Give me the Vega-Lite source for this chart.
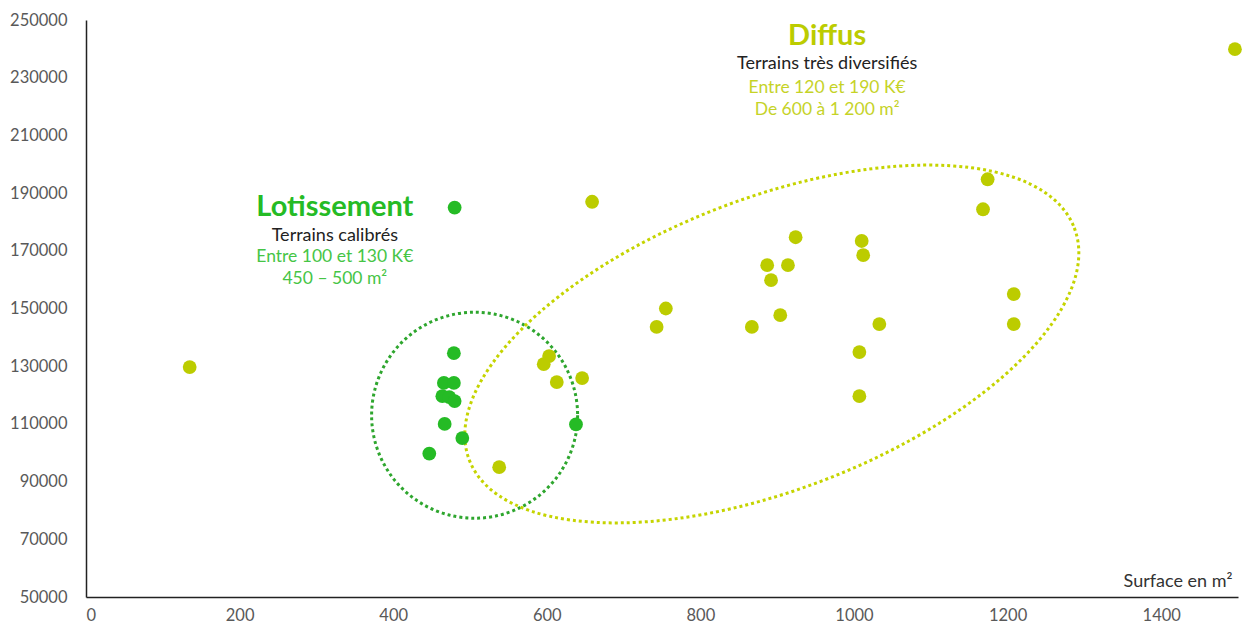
{
  "$schema": "https://vega.github.io/schema/vega-lite/v6.json",
  "width": 1152,
  "height": 577,
  "autosize": {"type": "none"},
  "padding": {"left": 86, "top": 20, "right": 5, "bottom": 35},
  "background": "white",
  "config": {
    "view": {"stroke": null},
    "font": "Lato",
    "axis": {"grid": false, "ticks": false, "labelFont": "Lato", "labelFontSize": 16.5, "labelColor": "#595959", "domainColor": "#222", "domainWidth": 1.5, "format": "d"}
  },
  "datasets": {
    "pts": [
      {"surface": 480, "prix": 185000, "type": "Lotissement"},
      {"surface": 479, "prix": 134500, "type": "Lotissement"},
      {"surface": 466, "prix": 124200, "type": "Lotissement"},
      {"surface": 479, "prix": 124200, "type": "Lotissement"},
      {"surface": 464, "prix": 119600, "type": "Lotissement"},
      {"surface": 473, "prix": 119300, "type": "Lotissement"},
      {"surface": 480, "prix": 117900, "type": "Lotissement"},
      {"surface": 467, "prix": 110000, "type": "Lotissement"},
      {"surface": 490, "prix": 105100, "type": "Lotissement"},
      {"surface": 447, "prix": 99700, "type": "Lotissement"},
      {"surface": 638, "prix": 109800, "type": "Lotissement"},
      {"surface": 135, "prix": 129700, "type": "Diffus"},
      {"surface": 659, "prix": 187000, "type": "Diffus"},
      {"surface": 603, "prix": 133500, "type": "Diffus"},
      {"surface": 596, "prix": 130700, "type": "Diffus"},
      {"surface": 613, "prix": 124500, "type": "Diffus"},
      {"surface": 646, "prix": 125900, "type": "Diffus"},
      {"surface": 538, "prix": 95000, "type": "Diffus"},
      {"surface": 924, "prix": 174700, "type": "Diffus"},
      {"surface": 887, "prix": 165000, "type": "Diffus"},
      {"surface": 914, "prix": 165000, "type": "Diffus"},
      {"surface": 892, "prix": 159800, "type": "Diffus"},
      {"surface": 755, "prix": 150000, "type": "Diffus"},
      {"surface": 743, "prix": 143600, "type": "Diffus"},
      {"surface": 867, "prix": 143600, "type": "Diffus"},
      {"surface": 904, "prix": 147700, "type": "Diffus"},
      {"surface": 1010, "prix": 173400, "type": "Diffus"},
      {"surface": 1012, "prix": 168500, "type": "Diffus"},
      {"surface": 1033, "prix": 144600, "type": "Diffus"},
      {"surface": 1007, "prix": 134900, "type": "Diffus"},
      {"surface": 1007, "prix": 119600, "type": "Diffus"},
      {"surface": 1174, "prix": 194800, "type": "Diffus"},
      {"surface": 1168, "prix": 184400, "type": "Diffus"},
      {"surface": 1208, "prix": 155000, "type": "Diffus"},
      {"surface": 1208, "prix": 144600, "type": "Diffus"},
      {"surface": 1496, "prix": 239900, "type": "Diffus"}
    ],
    "titles": [
      {"surface": 324, "prix": 185100, "type": "Lotissement", "text": "Lotissement"},
      {"surface": 965, "prix": 244400, "type": "Diffus", "text": "Diffus"}
    ],
    "blacklines": [
      {"surface": 324, "prix": 175100, "text": "Terrains calibrés"},
      {"surface": 965, "prix": 234700, "text": "Terrains très diversifiés"}
    ],
    "colorlines": [
      {"surface": 324, "prix": 167800, "type": "Lotissement", "text": "Entre 100 et 130 K€"},
      {"surface": 324, "prix": 160200, "type": "Lotissement", "text": "450 – 500 m²"},
      {"surface": 965, "prix": 226400, "type": "Diffus", "text": "Entre 120 et 190 K€"},
      {"surface": 965, "prix": 218700, "type": "Diffus", "text": "De 600 à 1 200 m²"}
    ],
    "circ": [{"surface": 506, "prix": 113000}],
    "ell": [{"surface": 893, "prix": 137700}]
  },
  "layer": [
    {
      "data": {"name": "circ"},
      "mark": {"type": "point", "shape": "circle", "size": 42436, "filled": false, "stroke": "#2ea62e", "strokeWidth": 3, "strokeDash": [3, 3], "opacity": 1},
      "encoding": {
        "x": {"field": "surface", "type": "quantitative", "scale": {"domain": [0, 1500], "nice": false, "zero": false},
              "axis": {"values": [0, 200, 400, 600, 800, 1000, 1200, 1400], "labelPadding": 10, "title": "Surface en m²", "titleFont": "Lato", "titleFontSize": 18, "titleFontWeight": "normal", "titleColor": "#333", "titleX": 1146, "titleY": -7, "titleAlign": "right", "titleBaseline": "bottom", "titleAnchor": null}},
        "y": {"field": "prix", "type": "quantitative", "scale": {"domain": [50000, 250000], "nice": false, "zero": false},
              "axis": {"values": [50000, 70000, 90000, 110000, 130000, 150000, 170000, 190000, 210000, 230000, 250000], "labelPadding": 19, "title": null}}
      }
    },
    {
      "data": {"name": "ell"},
      "mark": {"type": "point", "shape": "M 1 0 C 1 0.2485 0.5523 0.45 0 0.45 C -0.5523 0.45 -1 0.2485 -1 0 C -1 -0.2485 -0.5523 -0.45 0 -0.45 C 0.5523 -0.45 1 -0.2485 1 0 Z", "size": 419904, "angle": 339, "filled": false, "stroke": "#c5d400", "strokeWidth": 3, "strokeDash": [3, 3], "opacity": 1},
      "encoding": {
        "x": {"field": "surface", "type": "quantitative"},
        "y": {"field": "prix", "type": "quantitative"}
      }
    },
    {
      "data": {"name": "pts"},
      "mark": {"type": "circle", "size": 190, "opacity": 1},
      "encoding": {
        "x": {"field": "surface", "type": "quantitative"},
        "y": {"field": "prix", "type": "quantitative"},
        "color": {"field": "type", "type": "nominal", "scale": {"domain": ["Lotissement", "Diffus"], "range": ["#25bb25", "#bccc00"]}, "legend": null}
      }
    },
    {
      "data": {"name": "titles"},
      "mark": {"type": "text", "font": "Lato", "fontSize": 29, "fontWeight": "bold", "baseline": "middle", "align": "center"},
      "encoding": {
        "x": {"field": "surface", "type": "quantitative"},
        "y": {"field": "prix", "type": "quantitative"},
        "text": {"field": "text"},
        "color": {"field": "type", "type": "nominal", "legend": null}
      }
    },
    {
      "data": {"name": "blacklines"},
      "mark": {"type": "text", "font": "Lato", "fontSize": 18, "baseline": "middle", "align": "center", "color": "#222"},
      "encoding": {
        "x": {"field": "surface", "type": "quantitative"},
        "y": {"field": "prix", "type": "quantitative"},
        "text": {"field": "text"}
      }
    },
    {
      "data": {"name": "colorlines"},
      "mark": {"type": "text", "font": "Lato", "fontSize": 17.5, "baseline": "middle", "align": "center", "opacity": 0.85},
      "encoding": {
        "x": {"field": "surface", "type": "quantitative"},
        "y": {"field": "prix", "type": "quantitative"},
        "text": {"field": "text"},
        "color": {"field": "type", "type": "nominal", "legend": null}
      }
    }
  ]
}
